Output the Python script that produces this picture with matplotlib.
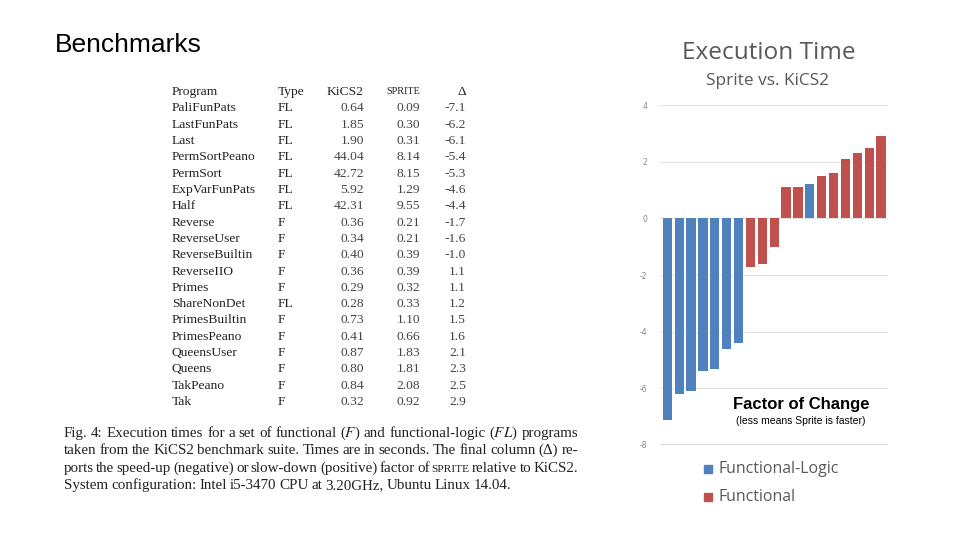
import numpy as np
import matplotlib as mpl
from matplotlib import pyplot as plt
from matplotlib.patches import Rectangle

# benchmark table (Fig. 4 of the paper)
programs = ['PaliFunPats', 'LastFunPats', 'Last', 'PermSortPeano', 'PermSort',
            'ExpVarFunPats', 'Half', 'Reverse', 'ReverseUser', 'ReverseBuiltin',
            'ReverseIIO', 'Primes', 'ShareNonDet', 'PrimesBuiltin', 'PrimesPeano',
            'QueensUser', 'Queens', 'TakPeano', 'Tak']
types = ['FL', 'FL', 'FL', 'FL', 'FL', 'FL', 'FL', 'F', 'F', 'F',
         'F', 'F', 'FL', 'F', 'F', 'F', 'F', 'F', 'F']
kics2 = ['0.64', '1.85', '1.90', '44.04', '42.72', '5.92', '42.31', '0.36', '0.34', '0.40',
         '0.36', '0.29', '0.28', '0.73', '0.41', '0.87', '0.80', '0.84', '0.32']
sprite = ['0.09', '0.30', '0.31', '8.14', '8.15', '1.29', '9.55', '0.21', '0.21', '0.39',
          '0.39', '0.32', '0.33', '1.10', '0.66', '1.83', '1.81', '2.08', '0.92']
delta = [-7.1, -6.2, -6.1, -5.4, -5.3, -4.6, -4.4, -1.7, -1.6, -1.0,
         1.1, 1.1, 1.2, 1.5, 1.6, 2.1, 2.3, 2.5, 2.9]
y_ticks = [-8, -6, -4, -2, 0, 2, 4]

caption = ['Fig. 4: Execution times for a set of functional ($F$) and functional-logic ($FL$) programs',
           'taken from the KiCS2 benchmark suite. Times are in seconds. The final column (\u0394) re-',
           'ports the speed-up (negative) or slow-down (positive) factor of SPRITE relative to KiCS2.',
           'System configuration: Intel i5-3470 CPU at 3.20GHz, Ubuntu Linux 14.04.']

BLUE = '#4F81BD'
RED = '#C0504D'
GREY = '#595959'
W, H = 960, 540

mpl.rcParams['mathtext.fontset'] = 'stix'
fig = plt.figure(figsize=(9.6, 5.4), dpi=100)
renderer = fig.canvas.get_renderer()


def px(x, y):
    return x / W, 1 - y / H


fig.text(*px(55, 45), 'Benchmarks', fontsize=19, family='Liberation Sans',
         va='center', ha='left')

# table
serif = 'Liberation Serif'
row0, row_step = 92, 16.32
tsize = 9.7
fig.text(*px(172, row0), 'Program', family=serif, fontsize=tsize, va='center', color='#222222')
fig.text(*px(278, row0), 'Type', family=serif, fontsize=tsize, va='center', color='#222222')
fig.text(*px(364, row0), 'KiCS2', family=serif, fontsize=tsize, va='center', ha='right', color='#222222')
fig.text(*px(420, row0), 'SPRITE', family=serif, fontsize=tsize - 2.4, va='center', ha='right', color='#222222')
fig.text(*px(466, row0), '\u0394', family=serif, fontsize=tsize, va='center', ha='right', color='#222222')
for i, (p, t, k, s, d) in enumerate(zip(programs, types, kics2, sprite, delta)):
    y = row0 + (i + 1) * row_step
    fig.text(*px(172, y), p, family=serif, fontsize=tsize, va='center', color='#222222')
    fig.text(*px(278, y), t, family=serif, fontsize=tsize, va='center', color='#222222')
    fig.text(*px(364, y), k, family=serif, fontsize=tsize, va='center', ha='right', color='#444444')
    fig.text(*px(420, y), s, family=serif, fontsize=tsize, va='center', ha='right', color='#444444')
    fig.text(*px(466, y), f'{d:.1f}', family=serif, fontsize=tsize, va='center', ha='right', color='#444444')

# caption, justified like the paper (last line left-aligned)
cap_left, cap_right, csize = 64, 578, 10.8
for i, line in enumerate(caption):
    y = 437 + i * 17.3  # baseline
    words = line.split(' ')
    texts = []
    for w in words:
        size = csize - 2.6 if w == 'SPRITE' else csize
        texts.append(fig.text(*px(cap_left, y), w, family=serif, fontsize=size,
                              va='baseline', color='#222222'))
    widths = [t.get_window_extent(renderer).width for t in texts]
    if i < len(caption) - 1:
        gap = (cap_right - cap_left - sum(widths)) / (len(words) - 1)
    else:
        gap = 2.9
    xpos = cap_left
    for t, wd in zip(texts, widths):
        t.set_position(px(xpos, y))
        xpos += wd + gap

# chart
ax = fig.add_axes([660 / W, 1 - 445 / H, 228 / W, 340 / H])
x = np.arange(len(delta))
colors = [BLUE if t == 'FL' else RED for t in types]
ax.bar(x, delta, width=0.78, color=colors, zorder=3)
ax.set_ylim(-8, 4)
ax.set_xlim(-0.62, len(delta) - 0.42)
ax.set_yticks(y_ticks)
ax.set_yticklabels([str(v) for v in y_ticks], fontsize=5.5, color='#888888')
ax.tick_params(axis='y', length=0, pad=9)
ax.set_xticks([])
for s in ax.spines.values():
    s.set_visible(False)
ax.grid(axis='y', color='#E4E4E4', linewidth=0.8, zorder=0)
ax.axhline(-8, color='#D0D0D0', linewidth=1.2, zorder=1)

fig.text(*px(769, 53), 'Execution Time', fontsize=17.6, color=GREY, family='Open Sans',
         ha='center', va='center')
fig.text(*px(768, 81), 'Sprite vs. KiCS2', fontsize=12.4, color=GREY, family='Open Sans',
         ha='center', va='center')

fig.text(*px(801, 405), 'Factor of Change', fontsize=12, weight='bold', family='Liberation Sans',
         ha='center', va='center')
fig.text(*px(801, 421), '(less means Sprite is faster)', fontsize=7.5, family='Liberation Sans',
         ha='center', va='center')

# legend
for y, c, lab in [(469, BLUE, 'Functional-Logic'), (497, RED, 'Functional')]:
    fig.patches.append(Rectangle(px(704, y + 4), 8 / W, 8 / H, transform=fig.transFigure,
                                 color=c, figure=fig))
    fig.text(*px(719, y), lab, fontsize=11.4, color=GREY, family='Open Sans', va='center')

fig.savefig('out.png', dpi=100)
